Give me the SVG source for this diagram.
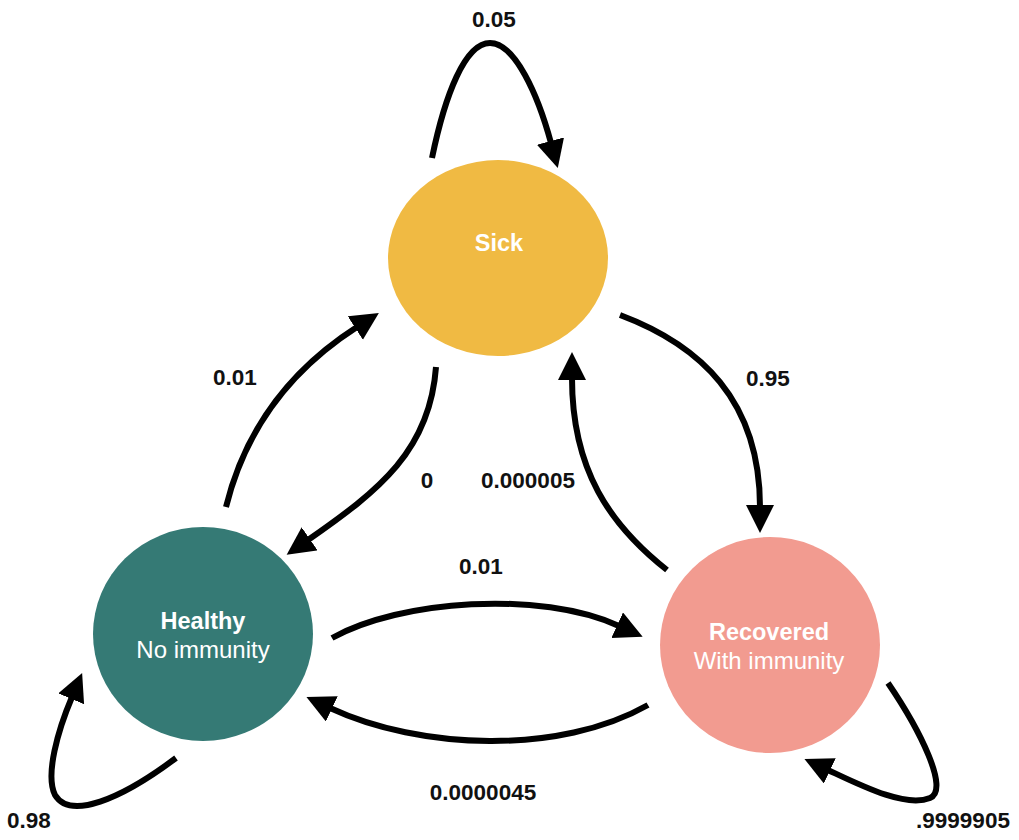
<svg xmlns="http://www.w3.org/2000/svg" width="1019" height="840" viewBox="0 0 1019 840">
<defs>
<marker id="ah" markerUnits="userSpaceOnUse" markerWidth="30" markerHeight="30" viewBox="0 0 30 30" refX="2" refY="14" orient="auto">
<path d="M0,0 L28,14 L0,28 z" fill="#000"/>
</marker>
<style>
.e{fill:none;stroke:#000;stroke-width:6;marker-end:url(#ah)}
.lbl{font-family:"Liberation Sans",Arial,sans-serif;font-weight:bold;font-size:22.5px;fill:#111;text-anchor:middle}
.t1{font-family:"Liberation Sans",Arial,sans-serif;font-weight:bold;font-size:23.5px;fill:#fff;text-anchor:middle}
.t2{font-family:"Liberation Sans",Arial,sans-serif;font-size:24px;fill:#fff;text-anchor:middle}
</style>
</defs>
<rect width="1019" height="840" fill="#fff"/>
<g id="connectors">
<path class="e" d="M432,158 C445,95 465,43 490,43 C515,43 538,95 551,143"/>
<path class="e" d="M620,315 C700,345 760,400 760,507"/>
<path class="e" d="M667,570 C610,525 572,470 572,378"/>
<path class="e" d="M436,367 C430,450 380,490 308,540"/>
<path class="e" d="M226,507 C245,430 290,370 357,327"/>
<path class="e" d="M332,638 C400,600 540,590 619,626"/>
<path class="e" d="M648,705 C560,755 420,750 330,708"/>
<path class="e" d="M176,758 C120,800 70,820 55,795 C45,775 58,730 72,697"/>
<path class="e" d="M888,683 C920,730 950,790 930,798 C905,808 860,785 828,770"/>
</g>
<g id="labels">
<text class="lbl" x="494" y="27">0.05</text>
<text class="lbl" x="768" y="386">0.95</text>
<text class="lbl" x="235" y="385">0.01</text>
<text class="lbl" x="427" y="488">0</text>
<text class="lbl" x="528" y="488">0.000005</text>
<text class="lbl" x="481" y="574">0.01</text>
<text class="lbl" x="483" y="800">0.0000045</text>
<text class="lbl" x="29" y="828">0.98</text>
<text class="lbl" x="963" y="828">.9999905</text>
</g>
<g id="sick">
<ellipse cx="498" cy="258" rx="110" ry="98" fill="#F0BA43"/>
<text class="t1" x="499" y="251">Sick</text>
</g>
<g id="healthy">
<ellipse cx="203" cy="634" rx="110" ry="107" fill="#357A75"/>
<text class="t1" x="203" y="629">Healthy</text>
<text class="t2" x="203" y="658">No immunity</text>
</g>
<g id="recovered">
<ellipse cx="770" cy="645" rx="110" ry="108" fill="#F29B90"/>
<text class="t1" x="769" y="640">Recovered</text>
<text class="t2" x="769" y="669">With immunity</text>
</g>
</svg>
